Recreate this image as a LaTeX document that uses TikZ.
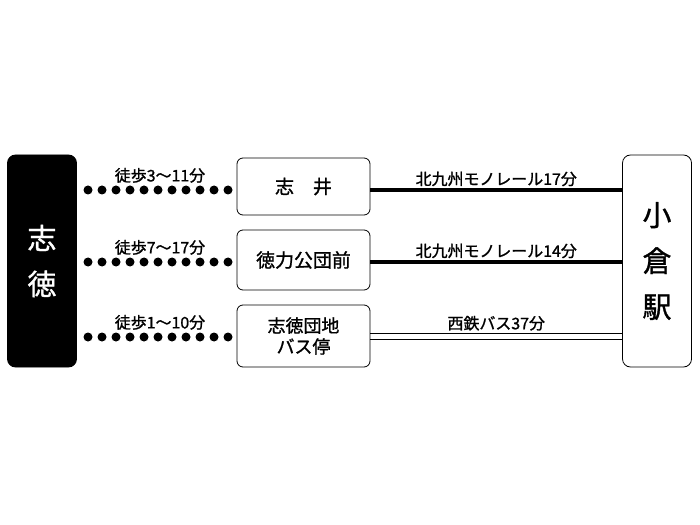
\documentclass[tikz,border=0pt]{standalone}
\usepackage{fontspec}
\setmainfont{Noto Sans CJK JP}[FakeBold=1.2]
\usetikzlibrary{positioning}
\tikzset{
  stop/.style={draw,thick,rounded corners=6bp,minimum width=133bp,align=center,font=\fontsize{19}{21}\selectfont},
  term/.style={draw,thick,rounded corners=8bp,minimum width=69bp,minimum height=212bp,align=center,font=\fontsize{29}{46}\selectfont},
  lbl/.style={font=\fontsize{16}{18}\selectfont,above,inner sep=2bp},
  rail/.style={line width=3.5bp},
  dot/.style={circle,fill,inner sep=0pt,minimum size=9bp}
}
\begin{document}
\begin{tikzpicture}[x=1bp,y=-1bp]
  \useasboundingbox (0,0) rectangle (700,525);
  \node[term,fill=black,text=white] (shitoku) at (42,261) {志\\徳};
  \node[term] (kokura) at (657,261) {小\\倉\\駅};
  \node[stop,minimum height=57bp] (shii) at (303.5,186.5) {志\quad 井};
  \node[stop,minimum height=60bp] (tokuriki) at (303.5,260) {徳力公団前};
  \node[stop,minimum height=62bp,font=\fontsize{18}{21}\selectfont] (danchi) at (303.5,336) {志徳団地\\バス停};
  % walking
  \foreach \y/\t in {190/徒歩3〜11分,262/徒歩7〜17分,337/徒歩1〜10分}{
    \foreach \i in {0,...,10}
      \node[dot] at (88+14*\i,\y) {};
    \node[lbl] at (160,\y-5) {\t};
  }
  % rail and bus
  \draw[rail] (shii.east|-0,190) -- node[lbl]{北九州モノレール17分} (kokura.west|-0,190);
  \draw[rail] (tokuriki.east|-0,262) -- node[lbl]{北九州モノレール14分} (kokura.west|-0,262);
  \draw[line width=1.8bp] (danchi.east|-0,333.5) -- node[lbl]{西鉄バス37分} (kokura.west|-0,333.5);
  \draw[line width=1.8bp] (danchi.east|-0,339.5) -- (kokura.west|-0,339.5);
\end{tikzpicture}
\end{document}
